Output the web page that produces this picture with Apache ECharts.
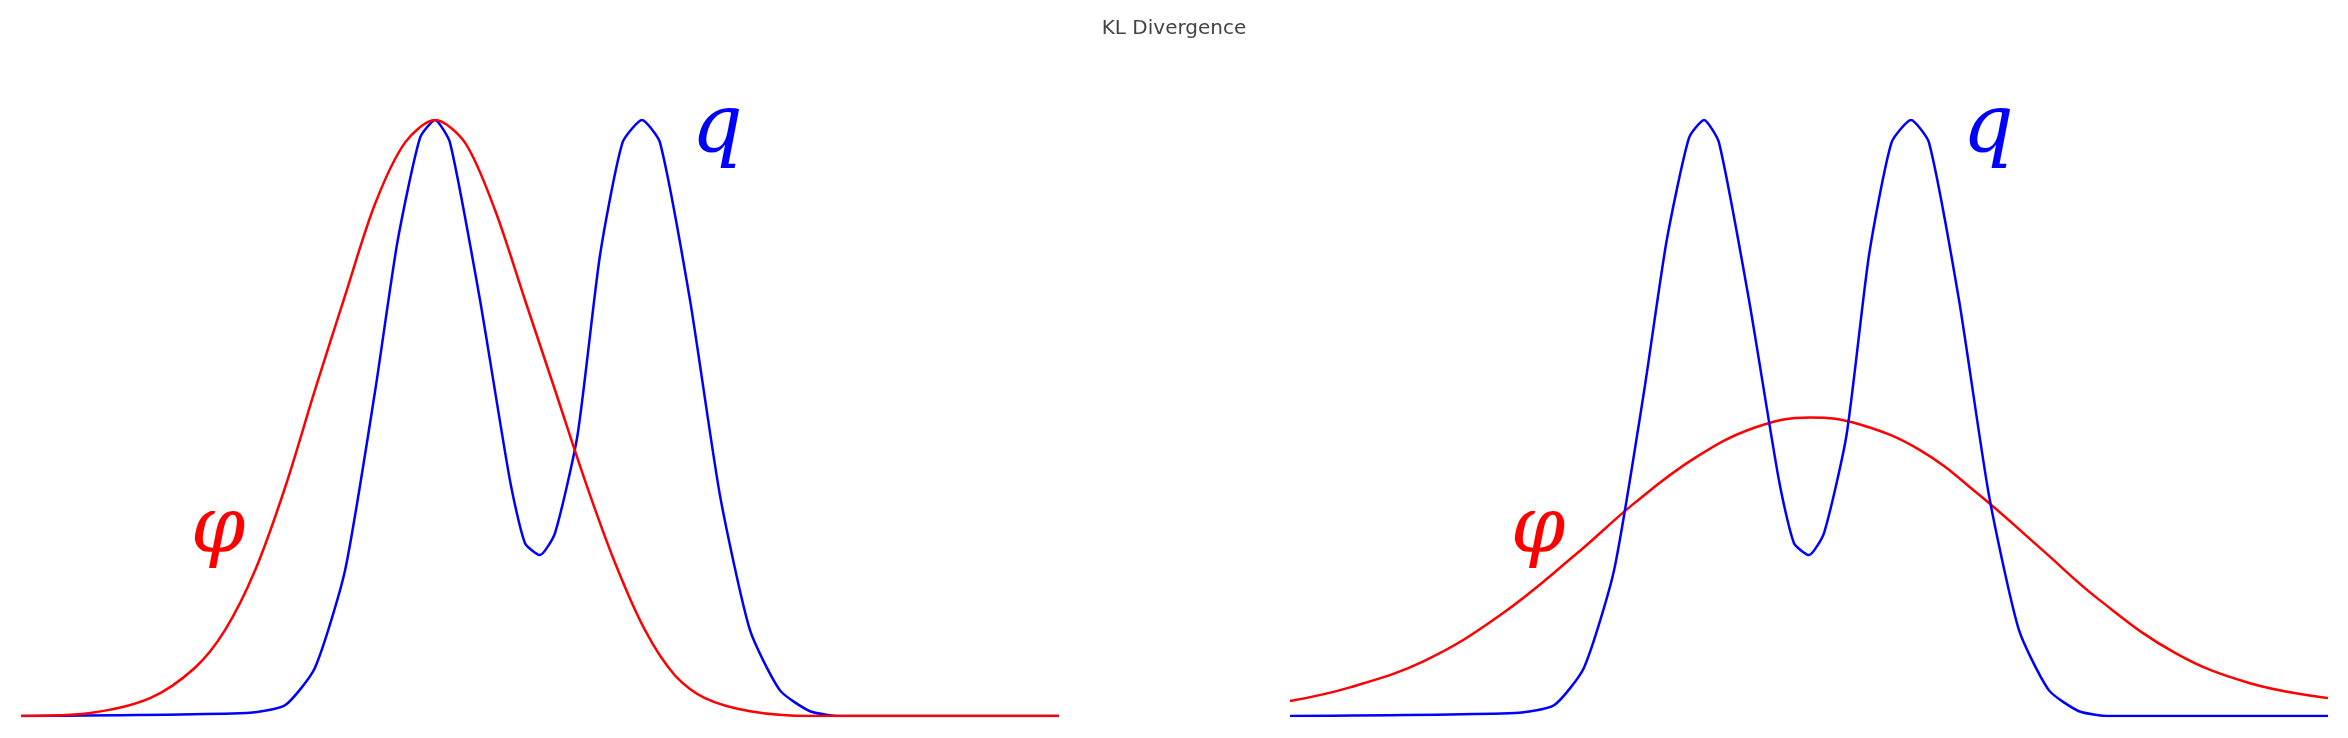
<!DOCTYPE html>
<html>
<head>
<meta charset="utf-8">
<script src="https://cdn.jsdelivr.net/npm/echarts@6/dist/echarts.min.js"></script>
<style>html,body{margin:0;padding:0;background:#fff}#main{width:2348px;height:738px}</style>
</head>
<body>
<div id="main"></div>
<script>
// x positions (0..692) and heights (0..1)
var qX = [0,150,176,196,216,236,251,266,276,286,306,326,336,346,356,371,386,401,414,426,446,466,486,506,526,546,692];
var qY = [0,.005,.018,.081,.244,.544,.796,.970,1,.962,.698,.395,.290,.270,.307,.471,.773,.962,1,.962,.698,.370,.144,.043,.008,0,0];
var pLeftX = [0,46,86,116,136,156,176,196,216,236,256,276,296,316,336,356,376,396,416,436,456,486,526,692];
var pLeftY = [0,.005,.030,.081,.144,.244,.383,.547,.705,.859,.962,1,.962,.849,.698,.547,.395,.257,.144,.068,.030,.008,0,0];
var pRightX = [0,40,90,140,190,230,270,310,347,380,420,460,500,540,590,640,692];
var pRightY = [.025,.048,.093,.169,.270,.358,.433,.484,.501,.489,.446,.370,.282,.194,.106,.055,.030];

function pairs(xs, ys){
	var out = [];
	for (var i = 0; i < xs.length; i++) out.push([xs[i], ys[i]]);
	return out;
}
function line(idx, color, xs, ys, sm){
	return {
		type: 'line', xAxisIndex: idx, yAxisIndex: idx, data: pairs(xs, ys),
		smooth: sm, showSymbol: false, lineStyle: {color: color, width: 2.5}
	};
}
var chart = echarts.init(document.getElementById('main'));
var ax = {type: 'value', min: 0, max: 692, show: false};
var ay = {type: 'value', min: 0, max: 1, show: false};
chart.setOption({
	animation: false,
	title: {text: 'KL Divergence', left: 'center', top: 14,
		textStyle: {fontSize: 20, fontWeight: 'normal', color: '#444', fontFamily: 'DejaVu Sans'}},
	grid: [
		{left: 21, width: 1038, top: 120, height: 596},
		{left: 1290, width: 1038, top: 120, height: 596}
	],
	xAxis: [Object.assign({gridIndex: 0}, ax), Object.assign({gridIndex: 1}, ax)],
	yAxis: [Object.assign({gridIndex: 0}, ay), Object.assign({gridIndex: 1}, ay)],
	series: [
		line(0, '#0000ff', qX, qY, 0.2),
		line(0, '#ff0000', pLeftX, pLeftY, 0.3),
		line(1, '#ff0000', pRightX, pRightY, 0.4),
		line(1, '#0000ff', qX, qY, 0.2)
	],
	graphic: [
		{type: 'text', x: 218, y: 532, style: {text: 'φ', fill: '#ff0000', font: 'italic 78px "DejaVu Serif"', align: 'center', verticalAlign: 'middle'}},
		{type: 'text', x: 1538, y: 532, style: {text: 'φ', fill: '#ff0000', font: 'italic 78px "DejaVu Serif"', align: 'center', verticalAlign: 'middle'}},
		{type: 'text', x: 717, y: 130, style: {text: 'q', fill: '#0000ff', font: 'italic 80px "DejaVu Serif"', align: 'center', verticalAlign: 'middle'}},
		{type: 'text', x: 1988, y: 130, style: {text: 'q', fill: '#0000ff', font: 'italic 80px "DejaVu Serif"', align: 'center', verticalAlign: 'middle'}}
	]
});
</script>
</body>
</html>
